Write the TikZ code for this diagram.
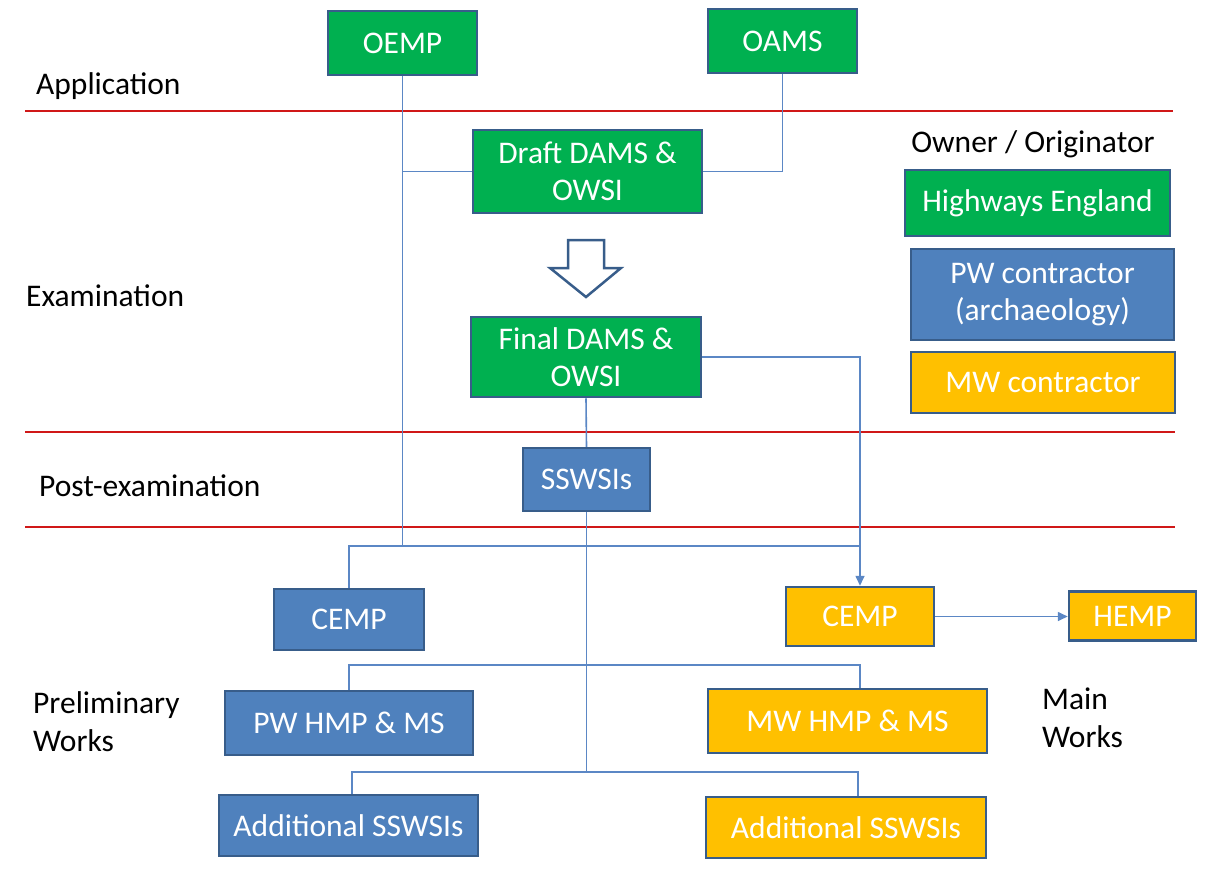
\documentclass[tikz,border=0pt]{standalone}
\usepackage{fontspec}
\setmainfont{Carlito}
\usetikzlibrary{arrows.meta}
\definecolor{hegreen}{HTML}{00B050}
\definecolor{pwblue}{HTML}{4F81BD}
\definecolor{mworange}{HTML}{FFC000}
\definecolor{bordblue}{HTML}{385D8A}
\definecolor{linkblue}{HTML}{5B87C5}
\definecolor{sepred}{HTML}{D01818}
\begin{document}
\begin{tikzpicture}[x=1pt,y=-1pt,
  box/.style={draw=bordblue, line width=2.5pt, text=white, align=center, inner sep=0pt,
    font=\fontsize{31.5}{37}\selectfont},
  gbox/.style={box, fill=hegreen},
  bbox/.style={box, fill=pwblue},
  obox/.style={box, fill=mworange},
  link/.style={draw=linkblue, line width=1.6pt},
  linkarrow/.style={link, -{Triangle[length=10pt,width=9pt]}},
  sep/.style={draw=sepred, line width=1.5pt},
  lbl/.style={font=\fontsize{31.5}{38}\selectfont, text=black, inner sep=0pt, align=left}]
\useasboundingbox (0,0) rectangle (1211,871);

% separators
\draw[sep] (25,111) -- (1173,111);
\draw[sep] (25,432) -- (1175,432);
\draw[sep] (25,527) -- (1175,527);

% stage labels
\node[lbl, anchor=west] (lapp) at (36,86) {Application};
\node[lbl, anchor=west] (lexam) at (26,296) {Examination};
\node[lbl, anchor=west] (lpost) at (39,486) {Post-examination};
\node[lbl, anchor=west] (lprelim) at (33,722) {Preliminary\\Works};
\node[lbl, anchor=west] (lmain) at (1042,718) {Main\\Works};
\node[lbl, anchor=center] (lowner) at (1033,144) {Owner / Originator};

% boxes
\node[gbox, minimum width=149pt, minimum height=64pt] (oemp) at (402.5,43) {OEMP};
\node[gbox, minimum width=149pt, minimum height=64pt] (oams) at (782.5,41) {OAMS};
\node[gbox, minimum width=229pt, minimum height=83pt] (draft) at (587.5,171.5) {Draft DAMS \&\\OWSI};
\node[gbox, minimum width=230pt, minimum height=80pt] (final) at (586,357) {Final DAMS \&\\OWSI};
\node[bbox, minimum width=127pt, minimum height=63pt] (sswsi) at (586.5,479.5) {SSWSIs};
\node[bbox, minimum width=150pt, minimum height=61pt] (cempb) at (349,619.5) {CEMP};
\node[obox, minimum width=148pt, minimum height=59pt] (cempo) at (860,616.5) {CEMP};
\node[obox, minimum width=127pt, minimum height=49pt] (hemp) at (1132.5,616) {HEMP};
\node[bbox, minimum width=248pt, minimum height=64pt] (pwhmp) at (349,723) {PW HMP \& MS};
\node[obox, minimum width=279pt, minimum height=64pt] (mwhmp) at (847.5,721) {MW HMP \& MS};
\node[bbox, minimum width=259pt, minimum height=61pt] (addb) at (348.5,825.5) {Additional SSWSIs};
\node[obox, minimum width=280pt, minimum height=61pt] (addo) at (846,827.5) {Additional SSWSIs};

% legend
\node[gbox, minimum width=265pt, minimum height=66pt] (leg1) at (1037.5,203) {Highways England};
\node[bbox, minimum width=263pt, minimum height=91pt] (leg2) at (1042.5,294.5) {PW contractor\\(archaeology)};
\node[obox, minimum width=264pt, minimum height=61pt] (leg3) at (1043,382.5) {MW contractor};

% hollow arrow between draft and final
\draw[draw=bordblue, line width=2.5pt, fill=white, line join=miter]
  (568,240) -- (604,240) -- (604,268) -- (621,268) -- (586,297) -- (550,268) -- (568,268) -- cycle;

% connectors
\coordinate (jA) at (402.5,546);
\coordinate (jB) at (860,546);
\coordinate (b1L) at (349,665);
\coordinate (b1R) at (860,665);
\coordinate (b2L) at (352,772);
\coordinate (b2R) at (858,772);
\coordinate (b2M) at (586.5,772);

\draw[link] (oemp.south) -- (jA) -- (jB);
\draw[link] (jA) -| (cempb.north);
\draw[link] (draft.west) -- (oemp.south |- draft.west);
\draw[link] (draft.east) -| (oams.south);
\draw[linkarrow] (final.east) -| (cempo.north);
\draw[link] (final.south) -- (sswsi.north);
\draw[link] (sswsi.south) -- (b2M);
\draw[link] (pwhmp.north) -- (b1L) -- (b1R) -- (b1R |- mwhmp.north);
\draw[link] (b2L |- addb.north) -- (b2L) -- (b2R) -- (b2R |- addo.north);
\draw[linkarrow] (cempo.east) -- (cempo.east -| hemp.west);
\end{tikzpicture}
\end{document}
